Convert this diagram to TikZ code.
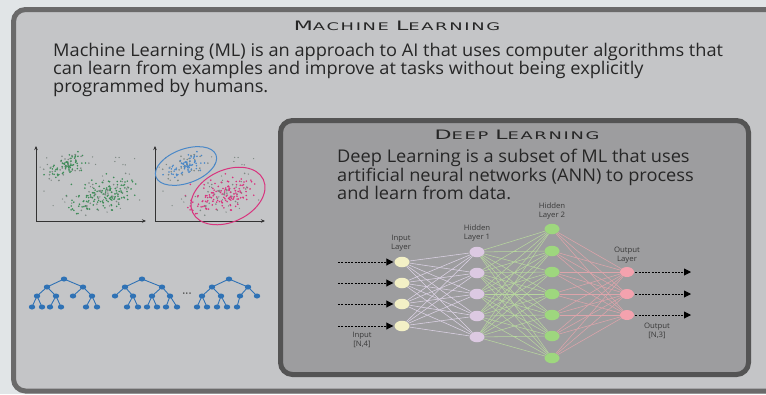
\documentclass[tikz,border=0pt]{standalone}
\usepackage{fontspec}
\setmainfont[FakeStretch=1.04]{Open Sans}
\newfontfamily\headfont[FakeStretch=1.7,LetterSpace=16]{DejaVu Sans}
\usetikzlibrary{arrows.meta,shapes.geometric}

\definecolor{bgpale}{HTML}{E1E5E7}
\definecolor{mlfill}{HTML}{C4C5C7}
\definecolor{mledge}{HTML}{6A6A6A}
\definecolor{dlfill}{HTML}{9D9D9F}
\definecolor{dledge}{HTML}{545454}
\definecolor{ink}{HTML}{262626}
\definecolor{labelink}{HTML}{3A3A3A}
\definecolor{treeblue}{HTML}{2F72B5}
\definecolor{dotgreen}{HTML}{3E8C58}
\definecolor{dotgrey}{HTML}{7E8883}
\definecolor{clblue}{HTML}{4A88C8}
\definecolor{clpink}{HTML}{D8347E}
\definecolor{inyellow}{HTML}{F3F0C6}
\definecolor{hpurple}{HTML}{DCC9E2}
\definecolor{hgreen}{HTML}{9ED77E}
\definecolor{outpink}{HTML}{F4A2AE}
\definecolor{wirepurple}{HTML}{DDD3E6}
\definecolor{wiregreen}{HTML}{B7D69E}
\definecolor{wirepink}{HTML}{DDA4AA}

% small-caps look: one large capital followed by smaller capitals
\newcommand{\capword}[2]{{\fontsize{13}{14}\selectfont #1}{\fontsize{10.5}{12}\selectfont #2}}

\tikzset{
  bodytext/.style={anchor=base west, inner sep=0pt, text=ink, font=\fontsize{17.5}{20}\selectfont},
  headtext/.style={anchor=base, inner sep=0pt, text=ink, font=\headfont},
  tnode/.style={ellipse, fill=treeblue, minimum width=6.5pt, minimum height=5pt, inner sep=0pt},
  tedge/.style={treeblue, line width=0.9pt},
  neuron/.style={ellipse, minimum width=15pt, minimum height=10.5pt, inner sep=0pt},
  nlabel/.style={align=center, inner sep=0pt, text=labelink, font=\fontsize{7.5}{8.5}\selectfont},
  flow/.style={black, line width=0.9pt, dash pattern=on 2pt off 1.3pt,
               -{Triangle[length=7pt,width=7pt]}},
  axis/.style={black!80, line width=0.8pt, -{Stealth[length=4pt,width=3.5pt]}},
  wire/.style={line width=0.55pt},
}

\begin{document}
\begin{tikzpicture}[x=1pt,y=-1pt]
\useasboundingbox (0,0) rectangle (766,394);
\fill[bgpale] (0,0) rectangle (766,394);

% outer machine-learning panel
\draw[mledge, line width=5pt, fill=mlfill, rounded corners=12pt] (13.5,9.5) rectangle (790,391);

% heading and description
\node[headtext] (mltitle) at (397,30) {\capword{M}{ACHINE} \capword{L}{EARNING}};
\node[bodytext] (ml1) at (53,56.5) {Machine Learning (ML) is an approach to AI that uses computer algorithms that};
\node[bodytext] (ml2) at (53,74.5) {can learn from examples and improve at tasks without being explicitly};
\node[bodytext] (ml3) at (53,92.5) {programmed by humans.};

% ---------- scatter plots ----------
\coordinate (p1o) at (36,221);
\coordinate (p1y) at (36,146);
\coordinate (p1x) at (146,221);
\coordinate (p2o) at (155,221);
\coordinate (p2y) at (155,146);
\coordinate (p2x) at (265,221);

% first cluster (upper left)
\pgfmathsetseed{11}
\foreach \k in {1,...,90}{
  \pgfmathsetmacro{\u}{(rand+rand+rand)/1.7}
  \pgfmathsetmacro{\v}{(rand+rand+rand)/1.7}
  \pgfmathsetmacro{\px}{66+17*\u*cos(28)-8*\v*sin(28)}
  \pgfmathsetmacro{\py}{166-17*\u*sin(28)-8*\v*cos(28)}
  \pgfmathsetmacro{\g}{rand}
  \ifdim\g pt>0.6pt \def\ca{dotgrey}\def\cb{dotgrey}\else\def\ca{dotgreen}\def\cb{clblue}\fi
  \fill[\ca] (\px,\py) circle[radius=0.9];
  \fill[\cb] (\px+119,\py) circle[radius=0.9];
}
% second cluster (lower right)
\foreach \k in {1,...,170}{
  \pgfmathsetmacro{\u}{(rand+rand+rand)/1.7}
  \pgfmathsetmacro{\v}{(rand+rand+rand)/1.7}
  \pgfmathsetmacro{\px}{102+26*\u*cos(22)-13*\v*sin(22)}
  \pgfmathsetmacro{\py}{195-26*\u*sin(22)-13*\v*cos(22)}
  \pgfmathsetmacro{\g}{rand}
  \ifdim\g pt>0.55pt \def\ca{dotgrey}\def\cb{dotgrey}\else\def\ca{dotgreen}\def\cb{clpink}\fi
  \fill[\ca] (\px,\py) circle[radius=0.9];
  \fill[\cb] (\px+119,\py) circle[radius=0.9];
}
% loose points
\foreach \k in {1,...,40}{
  \pgfmathsetmacro{\px}{90+50*rand}
  \pgfmathsetmacro{\py}{185+30*rand}
  \fill[dotgrey] (\px,\py) circle[radius=0.7];
  \fill[dotgrey] (\px+119,\py) circle[radius=0.7];
}

\draw[axis] (p1o) -- (p1y);
\draw[axis] (p1o) -- (p1x);
\draw[axis] (p2o) -- (p2y);
\draw[axis] (p2o) -- (p2x);

\draw[clblue, line width=1pt, rotate around={20:(186,166)}] (186,166) ellipse [x radius=32, y radius=17];
\draw[clpink, line width=1pt, rotate around={25:(228,196)}] (228,196) ellipse [x radius=39, y radius=26];

% ---------- decision trees ----------
\node[tnode] (t1r) at (64,279) {};
\node[tnode] (t1a) at (47,287) {};
\node[tnode] (t1b) at (83,287) {};
\node[tnode] (t1aa) at (37,296) {};
\node[tnode] (t1ab) at (56,296) {};
\node[tnode] (t1ba) at (73,296) {};
\node[tnode] (t1bb) at (92,296) {};
\node[tnode] (t1aa1) at (32,307) {};
\node[tnode] (t1aa2) at (42,307) {};
\node[tnode] (t1ab1) at (50,307) {};
\node[tnode] (t1ab2) at (61,307) {};
\node[tnode] (t1bb1) at (86,307) {};
\node[tnode] (t1bb2) at (97,307) {};
\foreach \p/\c in {t1r/t1a,t1r/t1b,t1a/t1aa,t1a/t1ab,t1b/t1ba,t1b/t1bb,
                   t1aa/t1aa1,t1aa/t1aa2,t1ab/t1ab1,t1ab/t1ab2,t1bb/t1bb1,t1bb/t1bb2}
  \draw[tedge] (\p.center) -- (\c.center);

\node[tnode] (t2r) at (142,279) {};
\node[tnode] (t2a) at (125,287) {};
\node[tnode] (t2b) at (162,287) {};
\node[tnode] (t2aa) at (115,296) {};
\node[tnode] (t2ab) at (133,296) {};
\node[tnode] (t2ba) at (152,296) {};
\node[tnode] (t2bb) at (170,296) {};
\node[tnode] (t2ab1) at (127,307) {};
\node[tnode] (t2ab2) at (138,307) {};
\node[tnode] (t2ba1) at (147,307) {};
\node[tnode] (t2ba2) at (157,307) {};
\node[tnode] (t2bb1) at (166,307) {};
\node[tnode] (t2bb2) at (177,307) {};
\foreach \p/\c in {t2r/t2a,t2r/t2b,t2a/t2aa,t2a/t2ab,t2b/t2ba,t2b/t2bb,
                   t2ab/t2ab1,t2ab/t2ab2,t2ba/t2ba1,t2ba/t2ba2,t2bb/t2bb1,t2bb/t2bb2}
  \draw[tedge] (\p.center) -- (\c.center);

\node[inner sep=0pt, text=ink, font=\fontsize{11}{11}\selectfont] (tdots) at (187,295) {···};

\node[tnode] (t3r) at (229,279) {};
\node[tnode] (t3a) at (212,287) {};
\node[tnode] (t3b) at (248,287) {};
\node[tnode] (t3aa) at (202,296) {};
\node[tnode] (t3ab) at (221,296) {};
\node[tnode] (t3ba) at (240,296) {};
\node[tnode] (t3bb) at (257,296) {};
\node[tnode] (t3aa1) at (197,307) {};
\node[tnode] (t3aa2) at (207,307) {};
\node[tnode] (t3ab1) at (217,307) {};
\node[tnode] (t3ab2) at (227,307) {};
\node[tnode] (t3ba1) at (237,307) {};
\foreach \p/\c in {t3r/t3a,t3r/t3b,t3a/t3aa,t3a/t3ab,t3b/t3ba,t3b/t3bb,
                   t3aa/t3aa1,t3aa/t3aa2,t3ab/t3ab1,t3ab/t3ab2,t3ba/t3ba1}
  \draw[tedge] (\p.center) -- (\c.center);

% ---------- deep-learning panel ----------
\draw[dledge, line width=5pt, fill=dlfill, rounded corners=12pt] (280.5,120.5) rectangle (748.5,374.5);
\node[headtext] (dltitle) at (517,139) {\capword{D}{EEP} \capword{L}{EARNING}};
\node[bodytext] (dl1) at (337,162.7) {Deep Learning is a subset of ML that uses};
\node[bodytext] (dl2) at (337,181) {artificial neural networks (ANN) to process};
\node[bodytext] (dl3) at (337,199) {and learn from data.};

% neurons
\foreach \i/\y in {1/262,2/283,3/304,4/326}
  \node[neuron, fill=inyellow] (i\i) at (402,\y) {};
\foreach \i/\y in {1/252,2/273,3/294,4/316,5/337}
  \node[neuron, fill=hpurple] (h\i) at (477,\y) {};
\foreach \i/\y in {1/229,2/251,3/272,4/294,5/315,6/336,7/358}
  \node[neuron, fill=hgreen] (g\i) at (552,\y) {};
\foreach \i/\y in {1/272,2/294,3/315}
  \node[neuron, fill=outpink, minimum width=14pt, minimum height=10pt] (o\i) at (627,\y) {};

% weights between layers
\foreach \a in {1,...,4}
  \foreach \b in {1,...,5}
    \draw[wire, wirepurple] (i\a) -- (h\b);
\foreach \a in {1,...,5}
  \foreach \b in {1,...,7}
    \draw[wire, wiregreen] (h\a) -- (g\b);
\foreach \a in {1,...,7}
  \foreach \b in {1,...,3}
    \draw[wire, wirepink] (g\a) -- (o\b);

% data flowing in and out
\foreach \i/\y in {1/262,2/283,3/304,4/326}{
  \coordinate (src\i) at (338,\y);
  \draw[flow, shorten >=1pt] (src\i) -- (i\i);
}
\foreach \i/\y in {1/272,2/294,3/315}{
  \coordinate (dst\i) at (691,\y);
  \draw[flow, shorten <=1pt] (o\i) -- (dst\i);
}

% layer captions
\node[nlabel] (lin) at (401,243) {Input\\Layer};
\node[nlabel] (lh1) at (477,233) {Hidden\\Layer 1};
\node[nlabel] (lh2) at (552,211) {Hidden\\Layer 2};
\node[nlabel] (lout) at (627,255) {Output\\Layer};
\node[nlabel] (lsin) at (362,340) {Input\\{[N,4]}};
\node[nlabel] (lsout) at (657,331) {Output\\{[N,3]}};
\end{tikzpicture}
\end{document}
